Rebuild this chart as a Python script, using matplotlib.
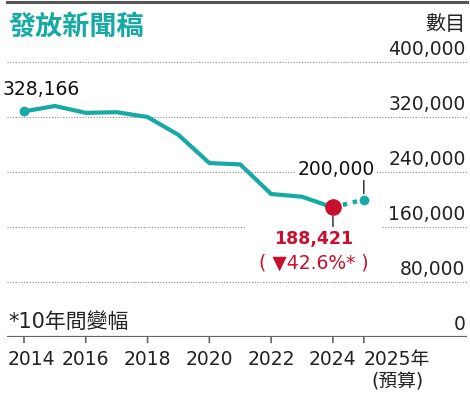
import matplotlib.pyplot as plt
from matplotlib import font_manager
from matplotlib.transforms import ScaledTranslation

# dados
anos = [2014, 2015, 2016, 2017, 2018, 2019, 2020, 2021, 2022, 2023, 2024]
valores = [328166, 336000, 326000, 327000, 320000, 294000, 253000, 251000, 208000, 204000, 188421]
ano_previsto = 2025
valor_previsto = 200000
y_ticks = [0, 80000, 160000, 240000, 320000, 400000]
x_ticks = [2014, 2016, 2018, 2020, 2022, 2024, 2025]
x_labels = ['2014', '2016', '2018', '2020', '2022', '2024', '2025年\n(預算)']

TEAL = '#17aaa4'
RED = '#c8102e'
GRAY = '#666666'
CJK = ['Noto Sans CJK TC', 'DejaVu Sans']
MIX = ['DejaVu Sans', 'Noto Sans CJK TC']

# fonte estreita para o numero em destaque
nomes = {f.name for f in font_manager.fontManager.ttflist}
NARROW = 'Liberation Sans Narrow' if 'Liberation Sans Narrow' in nomes else 'DejaVu Sans'
tam_destaque = 17 if NARROW != 'DejaVu Sans' else 12.5

W, H = 470, 397
fig = plt.figure(figsize=(W / 100, H / 100), dpi=100)
ax = fig.add_axes([7 / W, 60 / H, 460 / W, 275 / H])
ax.set_xlim(2013.45, 2028.34)
ax.set_ylim(0, 400000)
ax.axis('off')

# barra do topo
fig.add_artist(plt.Line2D([7 / W, 467 / W], [1 - 1.5 / H, 1 - 1.5 / H], color='#555555', lw=2.2))

# titulo
fig.text(8 / W, 1 - 27 / H, '發放新聞稿', color=TEAL, fontsize=19.5, fontweight='bold',
         family=CJK, va='center', ha='left')
fig.text(466 / W, 1 - 25 / H, '數目', color='#222222', fontsize=14.5, family=CJK,
         va='center', ha='right')

# grade
for v in y_ticks:
    if v == 0:
        ax.axhline(v, color=GRAY, lw=1.6, zorder=1)
    else:
        ax.axhline(v, color='#888888', lw=0.8, ls=(0, (1, 1.5)), zorder=1)
    ax.annotate(f'{v:,}', xy=(1, v), xycoords=ax.get_yaxis_transform(),
                xytext=(-1, 2), textcoords='offset points', ha='right', va='bottom',
                fontsize=13.5, color='#222222', zorder=2)

# ticks do eixo x
for t in x_ticks:
    ax.annotate('', xy=(t, 0), xytext=(0, -4), textcoords='offset points',
                arrowprops=dict(arrowstyle='-', color=GRAY, lw=1.2, shrinkA=0, shrinkB=0),
                annotation_clip=False)
for t, lab in zip(x_ticks, x_labels):
    dx = 0
    ha = 'center'
    if t == 2014:
        dx = 7
    if t == 2025:
        ha = 'left'
    txt = ax.text(t, 0, lab, fontsize=13.5, family=MIX, ha=ha, va='top',
                  multialignment='center', color='#222222', linespacing=1.25)
    txt.set_transform(ax.transData + ScaledTranslation(dx / 100, -13 / 100, fig.dpi_scale_trans))

fig.text(8 / W, 1 - 322 / H, '*10年間變幅', fontsize=15, family=MIX, color='#222222',
         va='center', ha='left')

# linha
ax.plot(anos, valores, color=TEAL, lw=3, solid_joinstyle='miter', zorder=4)
ax.plot([anos[-1], ano_previsto], [valores[-1], valor_previsto], color=TEAL, lw=3.2,
        ls=(0, (1, 1.3)), zorder=4)
ax.plot(anos[0], valores[0], 'o', color=TEAL, ms=6, zorder=5)
ax.plot(ano_previsto, valor_previsto, 'o', color=TEAL, ms=6, zorder=5)
ax.plot(anos[-1], valores[-1], 'o', color=RED, ms=11, zorder=6)

# rotulos
ax.annotate(f'{valores[0]:,}', xy=(anos[0], valores[0]), xytext=(12.2, 15.8),
            textcoords='offset points', ha='center', va='center', fontsize=13.5, color='#111111')

ax.annotate(f'{valor_previsto:,}', xy=(ano_previsto, valor_previsto), xytext=(-20, 21.6),
            textcoords='offset points', ha='center', va='center', fontsize=13.5, color='#111111',
            bbox=dict(boxstyle='square,pad=0.15', fc='white', ec='none'), zorder=3)
ax.annotate('', xy=(ano_previsto, valor_previsto), xytext=(0, 13.7), textcoords='offset points',
            arrowprops=dict(arrowstyle='-', color='#222222', lw=1, shrinkA=0, shrinkB=4.3), zorder=7)

# caixa branca larga para cortar a linha de 160.000
ax.annotate(f'{valores[-1]:,}', xy=(anos[-1], valores[-1]), xytext=(-13.7, -23),
            textcoords='offset points', ha='center', va='center', fontsize=tam_destaque,
            fontweight='bold', family=NARROW, color=RED,
            bbox=dict(boxstyle='square,pad=0.08', fc='white', ec='none'), zorder=3)
ax.annotate('( ▼42.6%* )', xy=(anos[-1], valores[-1]), xytext=(-13.7, -33),
            textcoords='offset points', ha='center', va='bottom', fontsize=13.5, color='white',
            alpha=0, bbox=dict(boxstyle='square,pad=0.7', fc='white', ec='none'), zorder=2.5)
ax.annotate('( ▼42.6%* )', xy=(anos[-1], valores[-1]), xytext=(-13.7, -40.3),
            textcoords='offset points', ha='center', va='center', fontsize=13.5, color=RED,
            zorder=3.5)
ax.annotate('', xy=(anos[-1], valores[-1]), xytext=(0, -13.7), textcoords='offset points',
            arrowprops=dict(arrowstyle='-', color='#222222', lw=1, shrinkA=0, shrinkB=6.5), zorder=7)

fig.savefig('out.png', dpi=100)
